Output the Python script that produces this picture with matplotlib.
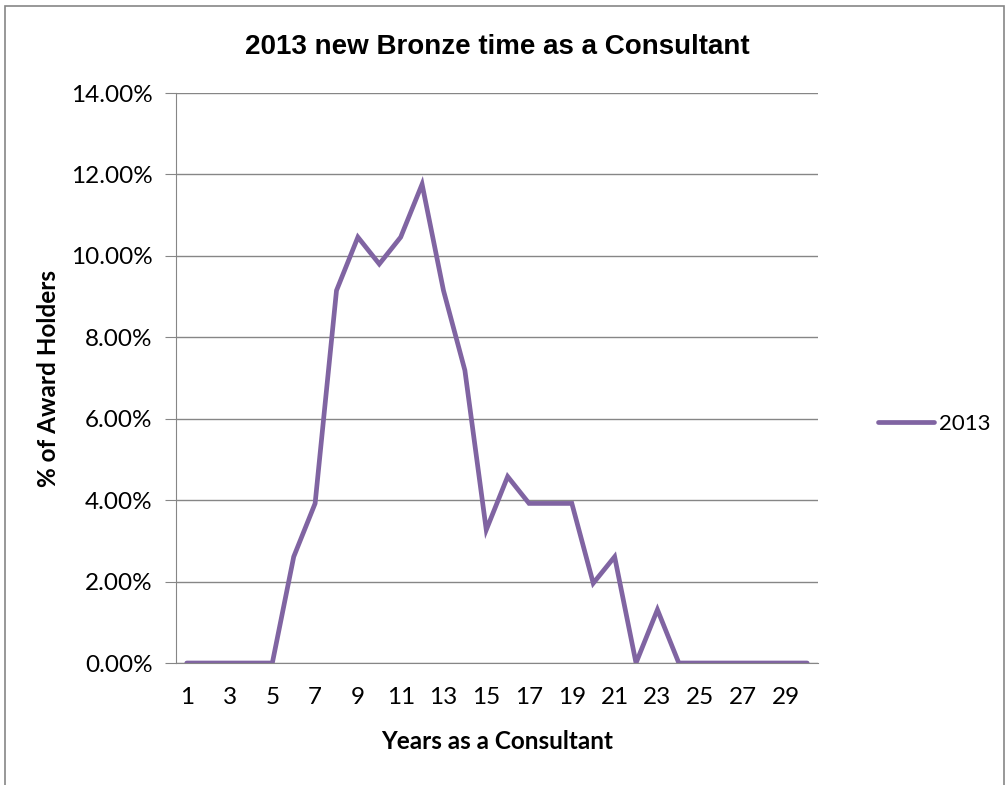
import matplotlib
matplotlib.use("Agg")
from matplotlib import pyplot as plt
from matplotlib.patches import Rectangle
from matplotlib.ticker import FuncFormatter, MultipleLocator
import numpy as np

# Years as a consultant (1..30) and share of new Bronze award holders (%)
years = list(range(1, 31))
share_2013 = [0.0, 0.0, 0.0, 0.0, 0.0, 2.61, 3.92, 9.15, 10.46, 9.80,
              10.46, 11.76, 9.15, 7.19, 3.27, 4.58, 3.92, 3.92, 3.92, 1.96,
              2.61, 0.0, 1.31, 0.0, 0.0, 0.0, 0.0, 0.0, 0.0, 0.0]
xtick_labels = [str(y) for y in years[::2]]

purple = "#8064A2"
grid_grey = "#868686"

fig = plt.figure(figsize=(10.06, 7.85), dpi=100)
ax = fig.add_axes([0.175, 0.1554, 0.638, 0.7261])

line, = ax.plot(years, share_2013, color=purple, linewidth=3.4,
                solid_capstyle="round", solid_joinstyle="miter", label="2013")

ax.set_xlim(0.5, 30.5)
ax.set_ylim(0, 14)
ax.yaxis.set_major_locator(MultipleLocator(2))
ax.yaxis.set_major_formatter(FuncFormatter(lambda v, p: f"{v:.2f}%"))
ax.set_xticks(years[::2])
ax.set_xticklabels(xtick_labels)

ax.grid(axis="y", color=grid_grey, linewidth=1.0)
ax.set_axisbelow(True)
for side in ["top", "right"]:
    ax.spines[side].set_visible(False)
ax.spines["left"].set_color(grid_grey)
ax.spines["bottom"].set_color(grid_grey)
ax.tick_params(axis="y", length=8, color=grid_grey, labelsize=17.5, pad=9)
ax.tick_params(axis="x", length=0, labelsize=17.5, pad=17)
for lbl in ax.get_xticklabels() + ax.get_yticklabels():
    lbl.set_family("Lato")

ax.set_title("2013 new Bronze time as a Consultant", fontsize=20,
             fontweight="bold", family="Liberation Sans", pad=28)
ax.set_xlabel("Years as a Consultant", fontsize=17.5, fontweight="bold",
              family="Lato", labelpad=16)
ax.set_ylabel("% of Award Holders", fontsize=17.5, fontweight="bold",
              family="Lato", labelpad=8)

leg = fig.legend(handles=[line], loc="center left", bbox_to_anchor=(0.853, 0.46),
                 frameon=False, handlelength=2.5, handletextpad=0.25,
                 prop={"family": "Lato", "size": 16})

# chart area border
fig.patches.append(Rectangle((0.005, -0.01), 0.993, 1.002, transform=fig.transFigure,
                             fill=False, edgecolor=grid_grey, linewidth=1.2))

fig.savefig("out.png", dpi=100)
